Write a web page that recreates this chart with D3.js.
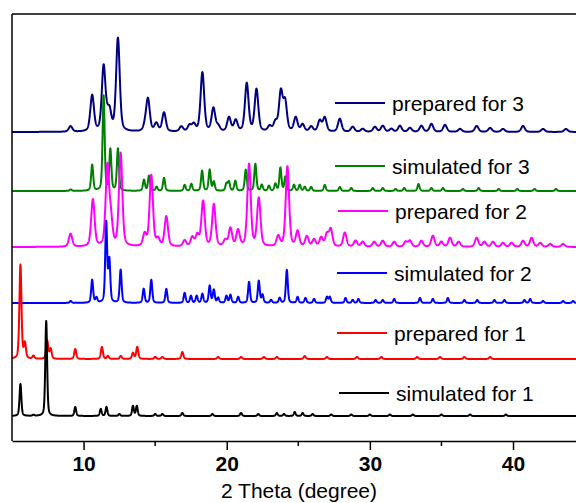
<!DOCTYPE html>
<html>
<head>
<meta charset="utf-8">
<script src="https://cdn.jsdelivr.net/npm/d3@7"></script>
<style>
  body { margin: 0; background: #fff; }
  text { font-family: Arial, "Liberation Sans", sans-serif; }
</style>
</head>
<body>
<div id="chart"></div>
<script>
// Series names (legend order, top to bottom)
const seriesNames = ['prepared for 3', 'simulated for 3', 'prepared for 2',
                     'simulated for 2', 'prepared for 1', 'simulated for 1'];

// Stacking offset of each pattern (intensity units)
const seriesOffsets = [309, 250, 194, 138, 82, 25];

// Peak lists: [2 theta, height]
const peaksPrepared3 = [
  [9.09, 5.5], [10.6, 36], [11.40, 64], [11.65, 8], [11.82, 17], [12.40, 93],
  [14.3, 5], [14.5, 32], [15.08, 8], [15.62, 19], [16.83, 5], [17.4, 6], [17.7, 7],
  [18.30, 59], [19.07, 23], [19.4, 5], [20.16, 14], [20.63, 11], [21.40, 48],
  [22.08, 42], [23.0, 5], [23.4, 9], [23.78, 39], [24.08, 29], [24.82, 14],
  [25.3, 7], [25.9, 5], [26.5, 11], [26.85, 14], [27.9, 13], [28.8, 5],
  [29.5, 3], [30.35, 5], [30.9, 6], [31.5, 3], [32.1, 6], [32.8, 4], [33.6, 6],
  [34.3, 8], [35.25, 7], [36.3, 3], [37.46, 6], [38.4, 4], [39.3, 3],
  [40.7, 6], [42.1, 3], [43.7, 3]
];
const peaksSimulated3 = [
  [9.1, 1.5], [10.6, 26], [11.40, 95], [11.87, 41], [12.40, 42], [14.22, 11],
  [14.57, 15], [15.1, 4], [15.62, 13], [17.06, 6], [17.53, 7], [18.28, 20],
  [18.81, 21], [19.1, 9], [19.98, 7], [20.15, 9], [20.6, 10], [21.33, 21],
  [22.0, 27], [22.45, 6], [22.95, 5], [23.4, 7], [23.75, 23], [24.1, 14],
  [24.7, 6], [25.1, 6], [25.45, 4], [25.9, 4], [26.85, 6], [27.9, 4], [28.7, 3],
  [30.2, 3], [30.9, 3], [31.8, 2], [32.4, 3], [33.4, 7], [34.3, 3], [35.1, 3],
  [36.5, 2], [37.6, 3], [39.0, 2], [40.3, 2], [41.5, 2], [43.0, 2]
];
const peaksPrepared2 = [
  [9.09, 13], [10.65, 47], [11.66, 78], [11.9, 26], [12.59, 93], [14.27, 12],
  [14.73, 71], [15.2, 7], [15.78, 30], [17.06, 6], [17.6, 9], [17.95, 11],
  [18.35, 45], [19.1, 42], [19.9, 6], [20.26, 18], [20.79, 16], [21.56, 82],
  [22.24, 48], [23.6, 10], [24.24, 80], [24.95, 15], [25.6, 10], [26.1, 7],
  [26.6, 9], [27.0, 12], [27.27, 17], [28.25, 14], [29.0, 6], [29.5, 5],
  [30.3, 5], [30.9, 6], [31.7, 5], [32.5, 5], [32.8, 6], [33.6, 6], [34.4, 11],
  [35.0, 5], [35.6, 9], [36.2, 5], [37.46, 9], [38.0, 5], [38.6, 5],
  [39.3, 4], [39.9, 4], [40.7, 6], [41.3, 9], [41.9, 4], [42.6, 3], [43.5, 3]
];
const peaksSimulated2 = [
  [9.1, 2], [10.6, 23], [10.9, 5], [11.58, 80], [11.8, 42], [12.59, 33],
  [14.2, 14], [14.73, 23], [15.78, 14], [17.06, 10], [17.5, 7], [17.9, 7],
  [18.3, 9], [18.81, 17], [19.1, 13], [19.4, 5], [19.98, 7], [20.26, 8],
  [20.8, 6], [21.56, 21], [22.24, 22], [22.5, 8], [23.1, 3], [23.7, 5],
  [24.2, 33], [24.95, 6], [25.5, 5], [26.1, 4], [27.0, 6], [27.2, 6], [28.3, 5],
  [28.8, 3], [29.2, 4], [30.4, 3], [30.9, 3], [31.7, 4], [33.5, 5], [34.4, 4],
  [35.45, 5], [36.6, 3], [37.5, 3], [38.7, 3], [39.4, 3], [40.8, 3], [41.2, 4],
  [42.1, 2], [43.5, 2], [44.2, 2]
];
const peaksPrepared1 = [
  [5.59, 94], [5.9, 15], [6.5, 3], [7.46, 18], [7.7, 10], [9.42, 10],
  [11.28, 12], [11.7, 3], [12.6, 3], [13.45, 6], [13.75, 12], [15.0, 2],
  [15.5, 2], [16.9, 7], [19.4, 2], [21.0, 2], [22.6, 2], [23.5, 2], [25.45, 3],
  [27.0, 2], [29.1, 2], [30.8, 2], [33.3, 2], [34.9, 2], [36.6, 2], [38.4, 2]
];
const peaksSimulated1 = [
  [5.59, 32], [6.5, 1], [7.39, 95], [9.42, 9], [11.2, 7], [11.6, 9], [12.5, 2],
  [13.45, 10], [13.72, 10], [15.0, 2], [15.5, 2], [16.9, 3], [19.0, 2],
  [21.0, 3], [22.2, 2], [23.5, 3], [24.0, 2], [24.75, 4], [25.3, 3], [26.0, 2],
  [27.3, 1.5], [28.7, 1.5], [30.0, 1.5], [31.4, 1.5], [33.0, 1.5], [35.0, 1.5],
  [37.0, 1.5], [39.5, 1.5]
];
const seriesPeaks = [peaksPrepared3, peaksSimulated3, peaksPrepared2,
                     peaksSimulated2, peaksPrepared1, peaksSimulated1];

// Axis ticks
const majorTicks = [10, 20, 30, 40];
const minorTicks = [15, 25, 35];

// Styles
const seriesColors = ['#000080', '#008000', '#ff00ff', '#0000ff', '#ff0000', '#000000'];
const peakWidths = [0.15, 0.085, 0.14, 0.08, 0.085, 0.075]; // half width, degrees
const legendLift = [29, 25, 36, 30, 26, 23];                // legend line above baseline, px
const legendX = [335, 335, 338, 337, 337, 339];

// SVG area
const svgWidth = 576;
const svgHeight = 503;
const plot = { left: 12, top: 14, right: 576, bottom: 441 };

const svg = d3.select('#chart')
    .append('svg')
    .attr('width', svgWidth)
    .attr('height', svgHeight);

// Scales
const xScale = d3.scaleLinear()
    .domain([5, 44.4])
    .range([plot.left, plot.right]);

const yScale = d3.scaleLinear()
    .domain([0, plot.bottom - plot.top])
    .range([plot.bottom, plot.top]);

// Peak profile (pseudo-Voigt) summed over a pattern's peak list
function profile(peaks, w, t) {
    let s = 0;
    peaks.forEach(([p, h]) => {
        const u = (t - p) / w;
        s += h * (0.4 / (1 + u * u) + 0.6 * Math.exp(-0.693 * u * u));
    });
    return s;
}

const grid = d3.range(5, 44.41, 0.01);

const line = d3.line()
    .x(d => xScale(d[0]))
    .y(d => yScale(d[1]));

// draw top pattern first so lower ones sit on top
seriesPeaks.forEach((peaks, i) => {
    const pts = grid.map(t => [t, seriesOffsets[i] + profile(peaks, peakWidths[i], t)]);
    svg.append('path')
        .datum(pts)
        .attr('fill', 'none')
        .attr('stroke', seriesColors[i])
        .attr('stroke-width', 2)
        .attr('stroke-linejoin', 'round')
        .attr('d', line);
});

// Legend
seriesNames.forEach((name, i) => {
    const ly = yScale(seriesOffsets[i]) - legendLift[i];
    svg.append('line')
        .attr('x1', legendX[i]).attr('x2', legendX[i] + 50)
        .attr('y1', ly).attr('y2', ly)
        .attr('stroke', seriesColors[i])
        .attr('stroke-width', 2);
    svg.append('text')
        .attr('x', legendX[i] + 57)
        .attr('y', ly + 7.5)
        .attr('font-size', 21)
        .attr('fill', '#000')
        .text(name);
});

// Frame: left and top borders
svg.append('line')
    .attr('x1', plot.left).attr('x2', plot.left)
    .attr('y1', plot.top).attr('y2', plot.bottom)
    .attr('stroke', '#000').attr('stroke-width', 1.5);
svg.append('line')
    .attr('x1', plot.left).attr('x2', plot.right)
    .attr('y1', plot.top).attr('y2', plot.top)
    .attr('stroke', '#000').attr('stroke-width', 1.5);

// X axis
const xAxis = d3.axisBottom(xScale)
    .tickValues(majorTicks)
    .tickSize(9)
    .tickPadding(6)
    .tickSizeOuter(0);

const xg = svg.append('g')
    .attr('transform', `translate(0, ${plot.bottom})`)
    .call(xAxis);
xg.select('.domain').attr('stroke-width', 1.5);
xg.selectAll('.tick line').attr('stroke-width', 1.5);
xg.selectAll('.tick text')
    .attr('font-size', 21)
    .attr('font-weight', 'bold')
    .attr('font-family', 'Arial, "Liberation Sans", sans-serif')
    .attr('fill', '#000');

svg.append('g')
    .attr('transform', `translate(0, ${plot.bottom})`)
    .selectAll('line')
    .data(minorTicks)
    .enter()
    .append('line')
    .attr('x1', d => xScale(d)).attr('x2', d => xScale(d))
    .attr('y1', 0).attr('y2', 5)
    .attr('stroke', '#000').attr('stroke-width', 1.5);

// x label
svg.append('text')
    .text('2 Theta (degree)')
    .attr('x', 299)
    .attr('y', 498)
    .attr('text-anchor', 'middle')
    .attr('font-size', 21)
    .attr('fill', '#000');
</script>
</body>
</html>
